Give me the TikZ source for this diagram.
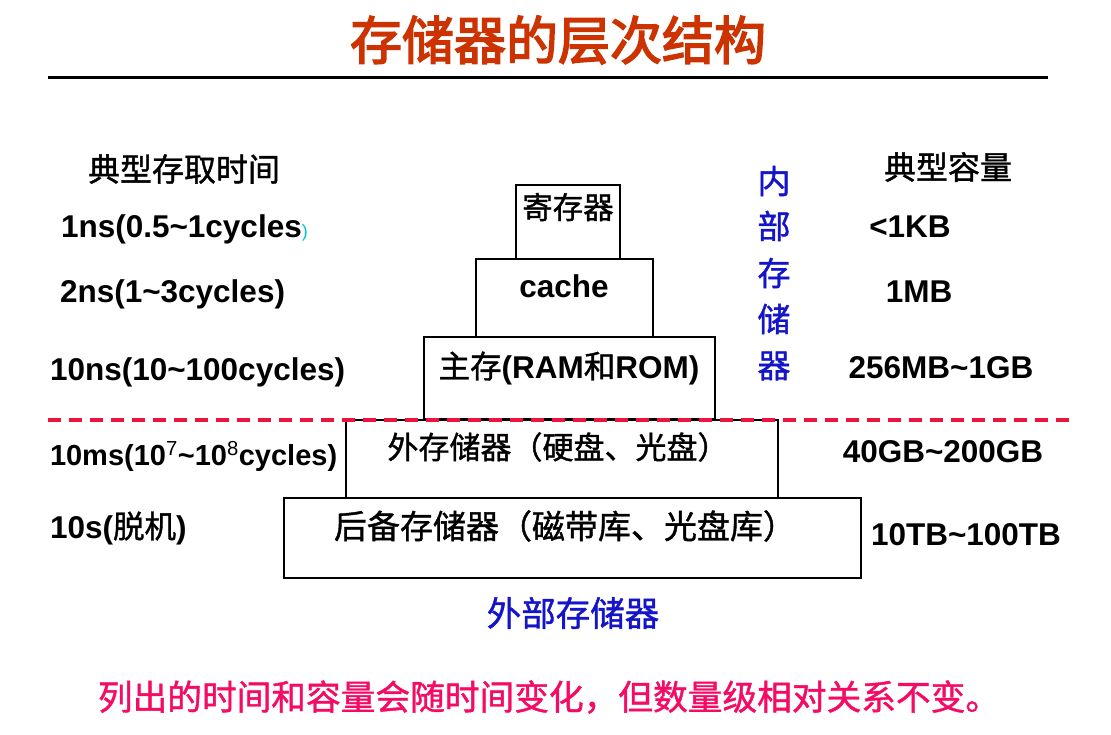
\documentclass[tikz,border=0pt]{standalone}
\usepackage{fontspec}
\setmainfont{Liberation Sans}
\newfontfamily\cjk{Noto Sans CJK SC}[FakeBold=1.2]
\newfontfamily\cjkhead{Noto Sans CJK SC}[FakeBold=3]
\definecolor{titlered}{RGB}{204,51,0}
\definecolor{dashred}{RGB}{236,20,60}
\definecolor{innerblue}{RGB}{20,20,200}
\definecolor{notepink}{RGB}{245,10,100}
\definecolor{parencyan}{RGB}{0,200,200}
\newcommand\fsz[1]{\fontsize{#1}{#1}\selectfont}
\newcommand\tld{\textasciitilde}

\begin{document}
\begin{tikzpicture}[x=1pt,y=-1pt,
  txt/.style={inner sep=0pt, outer sep=0pt},
  lat/.style={txt, font=\fsz{31.5}\bfseries},
  zh/.style={txt, font=\fsz{31}\cjk},
  inner/.style={txt, font=\fsz{33}\cjk, text=innerblue},
  level/.style={draw=black, line width=1.2pt, inner sep=0pt},
  rule/.style={line width=3pt, black},
  divider/.style={line width=3.5pt, dashred, dash pattern=on 13pt off 8pt}
]
\useasboundingbox (0,0) rectangle (1111,735);

% heading and rule beneath it
\node[txt, font=\fsz{52}\cjkhead, text=titlered] (title) at (558,40) {存储器的层次结构};
\coordinate (ruleL) at (48,77.5);
\coordinate (ruleR) at (1048,77.5);
\draw[rule] (ruleL) -- (ruleR);

% the hierarchy levels, stacked as a pyramid
\node[level, minimum width=104pt, minimum height=74pt] (reg)   at (568,222) {};
\node[level, minimum width=177pt, minimum height=78pt] (cache) at (564.5,298) {};
\node[level, minimum width=291pt, minimum height=82pt] (mem)   at (569.5,378) {};
\node[level, minimum width=432pt, minimum height=78pt] (disk)  at (562,459) {};
\node[level, minimum width=577pt, minimum height=80pt] (tape)  at (572.5,538) {};

% level names
\node[zh, font=\fsz{30.5}\cjk] (regT) at (568,207) {寄存器};
\node[lat, anchor=base] (cacheT) at (564,298) {cache};
\node[lat, anchor=base] (memT) at (569,378) {{\cjk\mdseries 主存}(RAM{\cjk\mdseries 和}ROM)};
\node[zh] (diskT) at (558,447) {外存储器（硬盘、光盘）};
\node[zh, font=\fsz{33}\cjk] (tapeT) at (565,526) {后备存储器（磁带库、光盘库）};

% boundary between internal and external storage
\coordinate (divL) at (48,420);
\coordinate (divR) at (1072,420);
\draw[divider] (divL) -- (divR);

% access times
\node[zh, font=\fsz{32}\cjk] (timeH) at (184,169) {典型存取时间};
\node[lat, anchor=base west] (t1) at (61,238) {1ns(0.5\tld1cycles};
\node[txt, font=\fsz{18}, text=parencyan, anchor=base west] (t1p) at (t1.base east) {)};
\node[lat, anchor=base west] (t2) at (60,302) {2ns(1\tld3cycles)};
\node[lat, anchor=base west] (t3) at (50,380) {10ns(10\tld100cycles)};
\node[lat, font=\fsz{29}\bfseries, anchor=base west] (t4) at (50,465) {10ms(10\textsuperscript{\mdseries 7}\tld10\textsuperscript{\mdseries 8}cycles)};
\node[lat, anchor=base west] (t5) at (50,538) {10s({\cjk\mdseries 脱机})};

% capacities
\node[zh, font=\fsz{32}\cjk] (capH) at (948,167) {典型容量};
\node[lat, anchor=base] (c1) at (910,238) {<1KB};
\node[lat, anchor=base] (c2) at (919,303) {1MB};
\node[lat, anchor=base] (c3) at (941,378) {256MB\tld1GB};
\node[lat, anchor=base] (c4) at (943,462) {40GB\tld200GB};
\node[lat, anchor=base] (c5) at (966,545) {10TB\tld100TB};

% internal storage, written vertically
\node[inner] (in1) at (774,181) {内};
\node[inner] (in2) at (774,226) {部};
\node[inner] (in3) at (774,273) {存};
\node[inner] (in4) at (774,319) {储};
\node[inner] (in5) at (774,366) {器};

% external storage
\node[inner, font=\fsz{34.5}\cjk] (outer) at (573,613) {外部存储器};

% closing remark
\node[txt, font=\fsz{34.7}\cjk, text=notepink] (note) at (549,697) {列出的时间和容量会随时间变化，但数量级相对关系不变。};
\end{tikzpicture}
\end{document}
